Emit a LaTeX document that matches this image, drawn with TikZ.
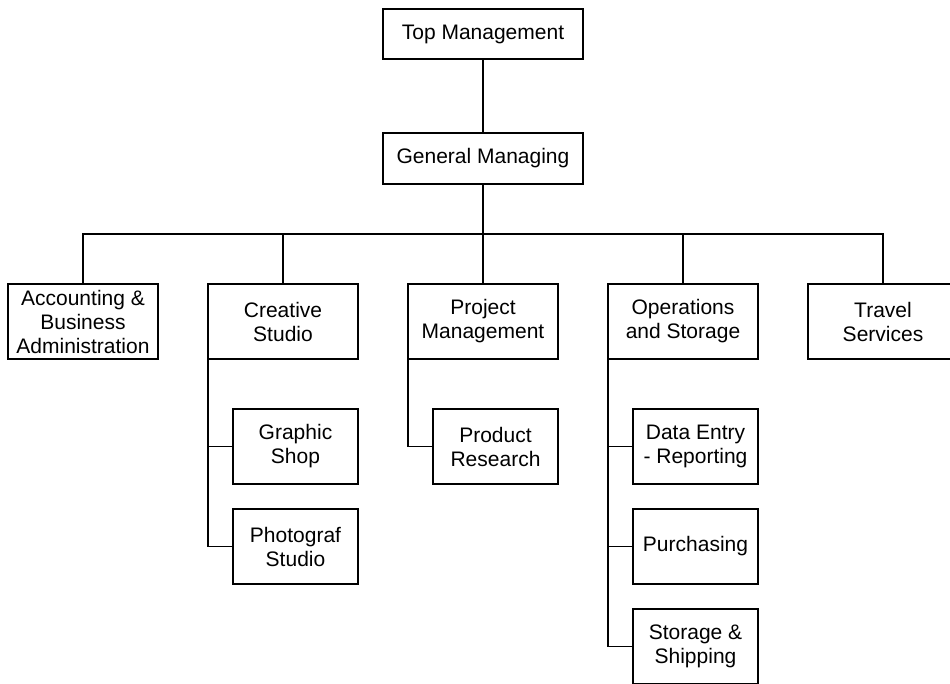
\documentclass[tikz,border=0pt]{standalone}
\usepackage{fontspec}
\setmainfont{Liberation Sans}
\usetikzlibrary{positioning}
\tikzset{
  org head/.style={rectangle, draw, fill=white, align=center, minimum width=200pt, minimum height=50pt, inner sep=1pt, outer sep=0pt},
  org unit/.style={rectangle, draw, fill=white, align=center, minimum width=150pt, minimum height=75pt, inner sep=1pt, outer sep=0pt},
  org sub/.style={rectangle, draw, fill=white, align=center, minimum width=125pt, minimum height=75pt, inner sep=1pt, outer sep=0pt}
}

\begin{document}
\begin{tikzpicture}[x=1pt, y=-1pt, line width=1.2pt, font=\fontsize{21}{24}\selectfont]
    \useasboundingbox (0,0) rectangle (950,683);
    \clip (0,0) rectangle (950,683);

    % Heads
    \node [org head] (Top) at (483,34) {Top Management};
    \node [org head, below=74pt of Top, minimum height=51pt] (General) {General Managing};
    \coordinate [below=50pt of General] (Bus);

    % Units
    \node [org unit, below=100pt of General] (Project) {Project\\Management};
    \node [org unit, left=50pt of Project] (Creative) {Creative\\Studio};
    \node [org unit, left=50pt of Creative] (Accounting) {Accounting \&\\Business\\Administration};
    \node [org unit, right=50pt of Project] (Operations) {Operations\\and Storage};
    \node [org unit, right=50pt of Operations] (Travel) {Travel\\Services};

    % Sub units
    \node [org sub, below right=50pt and 25pt of Creative.south west] (Graphic) {Graphic\\Shop};
    \node [org sub, below=25pt of Graphic] (Photo) {Photograf\\Studio};
    \node [org sub, below right=50pt and 25pt of Project.south west] (Research) {Product\\Research};
    \node [org sub, below right=50pt and 25pt of Operations.south west] (DataEntry) {Data Entry\\- Reporting};
    \node [org sub, below=25pt of DataEntry] (Purchasing) {Purchasing};
    \node [org sub, below=25pt of Purchasing] (Storage) {Storage \&\\Shipping};

    % Connections
    \draw (Top) -- (General);
    \draw (General) -- (Bus);
    \draw (Bus) -| (Accounting.north);
    \draw (Bus) -| (Creative.north);
    \draw (Bus) -- (Project.north);
    \draw (Bus) -| (Operations.north);
    \draw (Bus) -| (Travel.north);
    \draw (Creative.south west) |- (Graphic.west);
    \draw (Creative.south west) |- (Photo.west);
    \draw (Project.south west) |- (Research.west);
    \draw (Operations.south west) |- (DataEntry.west);
    \draw (Operations.south west) |- (Purchasing.west);
    \draw (Operations.south west) |- (Storage.west);
\end{tikzpicture}
\end{document}
